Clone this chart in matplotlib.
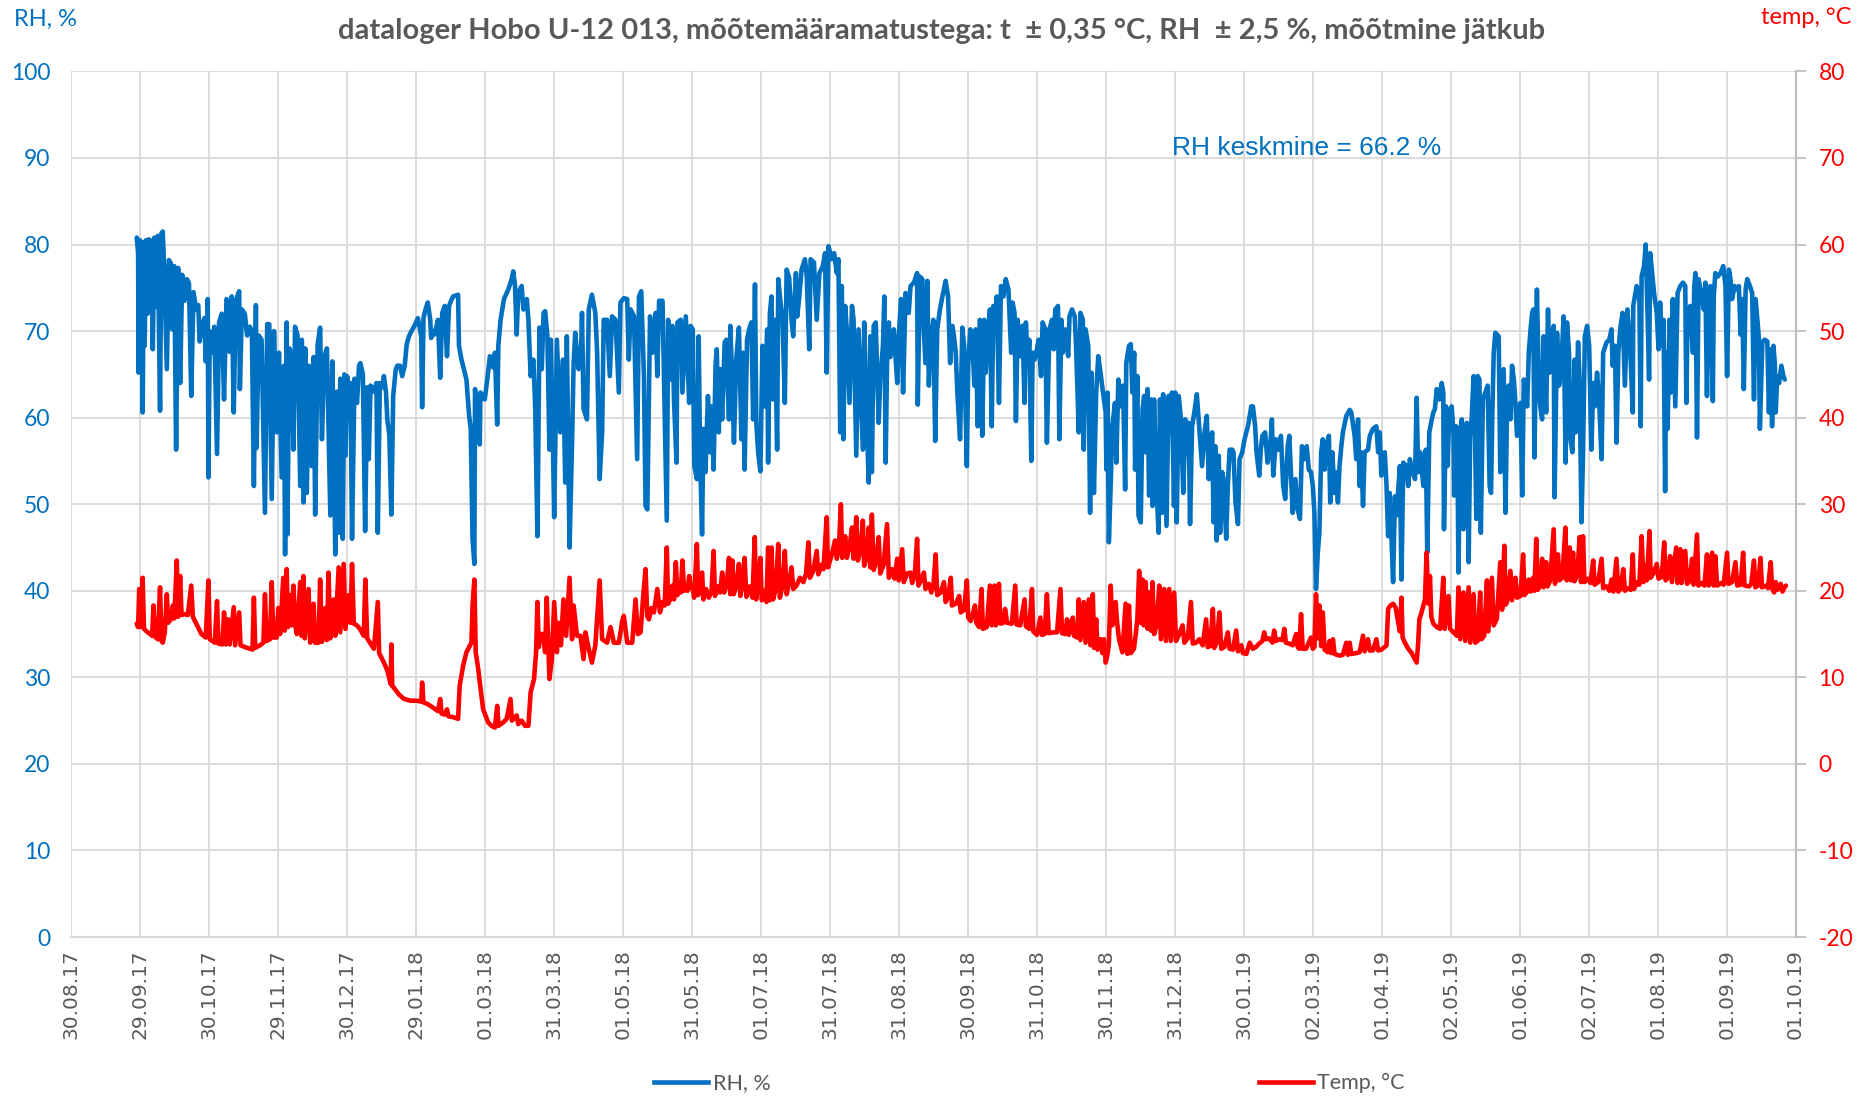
import matplotlib
matplotlib.use("Agg")
import matplotlib.pyplot as plt
from matplotlib.lines import Line2D
import numpy as np

# ---------------- data ----------------
x_tick_labels = ["30.08.17", "29.09.17", "30.10.17", "29.11.17", "30.12.17", "29.01.18",
                 "01.03.18", "31.03.18", "01.05.18", "31.05.18", "01.07.18", "31.07.18",
                 "31.08.18", "30.09.18", "31.10.18", "30.11.18", "31.12.18", "30.01.19",
                 "02.03.19", "01.04.19", "02.05.19", "01.06.19", "02.07.19", "01.08.19",
                 "01.09.19", "01.10.19"]
tick_step_days = 30.5
rh_ticks = [0, 10, 20, 30, 40, 50, 60, 70, 80, 90, 100]
temp_ticks = [-20, -10, 0, 10, 20, 30, 40, 50, 60, 70, 80]

# (days since 30.08.17, RH %)
rh_points = [
    (28.9,80.8),(29.5,79.0),(29.7,65.2),(30.3,80.5),(31.2,80.0),(31.5,60.6),(32.1,80.3),(32.4,68.3),(33.0,80.5),(33.7,72.0),
    (34.2,80.6),(35.4,80.4),(36.0,67.9),(36.7,80.8),(37.5,72.8),(38.2,81.0),(39.2,60.8),(39.8,81.3),(40.4,81.5),(41.0,77.5),
    (42.2,65.6),(43.1,78.2),(44.0,77.8),(44.6,70.2),(45.5,77.5),(46.3,56.3),(47.2,77.3),(48.1,64.0),(49.0,76.5),(50.0,73.5),
    (51.1,76.0),(52.0,75.5),(53.0,62.5),(54.0,74.5),(55.2,72.5),(56.1,73.0),(56.7,68.8),(57.6,70.5),(58.8,71.5),(59.4,66.5),
    (60.3,73.7),(60.6,53.1),(61.2,70.0),(62.3,67.5),(63.2,70.5),(64.4,55.8),(65.3,71.0),(66.5,72.0),(67.5,62.1),(68.6,73.7),
    (69.5,73.0),(70.0,67.6),(70.9,74.0),(71.8,60.6),(72.7,73.5),(73.6,74.2),(74.2,74.6),(74.5,63.3),(75.4,72.5),(76.7,72.0),
    (77.7,69.5),(78.9,70.5),(79.8,70.0),(80.7,52.1),(81.6,73.0),(81.9,56.5),(82.8,69.5),(84.1,69.0),(85.6,49.0),(86.6,70.8),
    (87.5,70.8),(88.6,50.6),(89.6,70.0),(90.8,58.3),(91.8,67.5),(93.0,53.1),(94.0,66.0),(94.5,44.2),(95.2,71.0),(95.5,46.5),
    (96.4,68.0),(97.5,67.0),(98.2,56.3),(98.9,70.5),(100.0,69.5),(101.2,52.1),(101.9,69.0),(102.6,50.2),(103.4,68.0),(104.1,51.3),
    (105.0,66.0),(106.3,54.4),(107.1,67.0),(107.8,48.8),(108.9,68.5),(110.0,70.4),(110.8,57.5),(111.8,67.0),(113.0,68.0),(114.5,48.7),
    (115.4,66.5),(116.0,58.0),(116.7,44.2),(117.5,63.0),(118.2,46.7),(118.9,64.5),(120.0,46.0),(120.7,65.0),(121.2,55.6),(121.9,64.8),
    (122.6,63.5),(123.4,64.0),(124.1,46.0),(125.2,64.5),(126.3,61.7),(127.2,66.0),(127.8,66.3),(128.9,65.0),(129.9,46.9),(130.8,63.5),
    (131.5,55.2),(132.3,63.7),(133.8,63.0),(134.9,64.0),(135.5,46.7),(136.4,64.0),(137.5,63.5),(138.2,64.8),(139.1,63.0),(139.7,59.8),
    (140.6,58.0),(141.5,48.8),(142.3,62.5),(143.4,65.5),(144.1,66.0),(145.3,66.0),(146.3,64.8),(147.4,66.0),(148.3,68.5),(149.3,69.4),
    (150.0,69.8),(151.7,70.6),(153.2,71.5),(154.7,69.4),(155.1,61.2),(155.7,71.5),(156.6,72.5),(157.6,73.3),(158.7,71.3),(159.1,69.2),
    (159.9,70.0),(160.6,69.6),(162.1,71.3),(163.1,64.6),(164.0,72.1),(165.1,72.9),(166.1,67.1),(167.0,72.9),(167.9,73.5),(168.8,74.0),
    (171.0,74.2),(171.4,68.3),(172.5,66.7),(173.2,66.0),(174.7,64.4),(175.9,60.2),(176.6,58.7),(177.4,46.0),(178.2,43.1),(178.5,63.3),
    (179.4,60.6),(180.0,62.5),(180.6,56.9),(180.9,62.9),(182.8,62.1),(183.9,64.4),(185.1,67.1),(186.5,65.8),(187.3,67.5),(188.3,59.2),
    (188.8,68.3),(189.8,71.3),(191.3,73.7),(193.2,74.8),(194.7,76.0),(195.4,76.9),(196.2,75.2),(196.9,69.6),(197.6,74.4),(199.1,75.2),
    (199.9,72.5),(201.4,73.7),(202.1,71.3),(203.1,64.8),(204.3,66.7),(205.1,61.3),(206.1,46.3),(207.0,70.4),(208.0,65.6),(208.8,72.1),
    (209.5,72.3),(210.5,69.4),(211.4,56.3),(212.0,69.0),(212.9,57.9),(213.5,48.5),(214.7,69.0),(216.2,58.3),(217.4,66.7),(218.4,52.5),
    (219.1,69.4),(220.3,45.0),(221.4,57.1),(222.1,66.3),(222.8,69.8),(224.3,65.6),(225.4,67.5),(225.8,72.1),(226.5,61.0),(228.0,59.8),
    (228.8,72.5),(230.2,74.2),(231.7,72.1),(232.5,67.5),(233.6,52.9),(234.7,58.3),(235.4,71.3),(236.9,71.3),(238.1,64.8),(239.1,71.7),
    (240.6,71.3),(242.1,62.9),(242.8,73.3),(244.3,73.8),(245.8,73.7),(246.5,66.7),(247.3,72.5),(248.8,71.7),(250.2,55.2),(251.0,74.0),
    (252.0,74.6),(253.2,64.8),(253.9,49.8),(254.7,49.4),(255.9,71.7),(256.9,67.5),(258.4,72.1),(259.1,64.8),(259.9,73.5),(261.4,73.5),
    (262.4,59.8),(263.3,48.1),(263.9,71.3),(265.1,64.4),(265.8,70.6),(266.5,61.9),(267.6,54.8),(268.0,71.0),(269.5,71.3),(270.2,62.9),
    (271.7,71.7),(273.2,61.7),
    (273.8,70.6),(274.8,70.2),(275.5,54.4),(276.6,52.9),(277.4,69.4),(278.0,56.0),(278.9,46.5),(279.5,58.7),(280.4,53.7),(281.5,62.5),
    (282.5,56.0),(282.9,61.3),(284.0,54.0),(284.9,66.3),(285.4,67.9),(286.3,58.3),(286.9,65.6),(287.8,59.8),(288.9,68.7),(289.6,69.0),
    (290.8,59.8),(291.4,70.6),(292.3,63.7),(293.0,57.1),(294.0,66.7),(295.2,70.4),(296.3,57.5),(297.0,67.5),(297.7,54.0),(298.8,69.0),
    (299.7,70.2),(300.7,71.0),(301.5,59.8),(302.3,75.4),(302.9,59.4),(303.7,56.0),(304.7,53.8),(305.6,68.3),(306.6,61.3),(307.7,70.2),
    (308.1,54.8),(308.9,72.1),(309.6,74.0),(310.3,62.1),(311.1,71.3),(312.1,56.3),(312.6,76.0),(313.6,73.3),(314.5,71.3),(315.5,61.7),
    (316.3,77.1),(317.4,76.2),(318.5,71.3),(319.2,69.4),(320.4,76.7),(321.0,71.7),(321.9,74.0),(322.9,77.1),(324.4,78.3),(325.2,76.3),
    (326.3,67.9),(326.9,78.3),(328.4,77.9),(329.6,71.3),(330.8,76.7),(332.3,77.5),(333.3,79.0),(334.0,65.2),(334.8,79.8),(336.3,78.3),
    (337.3,79.0),(338.5,76.7),(339.2,78.3),(340.0,58.3),(340.7,75.2),(341.4,57.5),(342.2,72.9),(342.9,70.2),(344.1,61.7),(345.2,72.9),
    (345.9,71.3),(347.1,55.6),(348.1,70.2),(349.2,62.1),(350.0,56.3),(350.6,71.0),(351.5,61.3),(352.6,52.5),(353.3,69.4),(354.0,53.7),
    (354.8,70.6),(355.7,71.0),(357.0,59.4),(357.7,64.4),(358.9,68.3),(359.5,74.0),(360.1,54.8),(360.7,66.3),(361.5,71.0),(362.2,67.0),
    (363.7,70.2),(365.2,64.0),(365.9,69.4),(366.9,73.7),(367.8,62.9),(368.9,74.4),(370.3,72.1),(371.1,75.2),(372.6,75.6),(374.0,76.7),
    (374.3,61.5),(375.2,76.3),(376.3,76.0),(377.0,69.8),(377.7,66.3),(378.5,75.8),(379.2,63.7),(380.0,69.0),(381.2,71.3),(382.0,57.3),
    (382.9,70.2),(384.1,72.5),(385.2,74.0),(386.6,75.8),(387.7,74.0),(388.6,66.3),(389.6,70.6),(390.3,69.4),(391.1,67.5),(391.8,62.9),
    (393.0,57.5),(394.0,70.4),(394.8,68.3),(396.0,54.4),(396.6,66.0),(397.5,70.2),
    (398.3,69.8),(399.3,63.7),(399.9,70.2),(400.8,59.0),(401.8,71.3),(402.8,57.9),(403.7,71.3),(404.3,65.2),(405.2,69.4),(406.2,72.5),
    (407.0,59.0),(407.7,72.9),(408.8,70.2),(409.2,74.0),(410.2,61.7),(411.1,75.2),(412.2,74.0),(413.2,76.0),(414.4,74.8),(415.6,67.5),
    (416.2,73.3),(417.1,72.1),(417.7,59.6),(418.5,71.3),(419.6,67.1),(420.6,70.6),(421.5,61.7),(422.1,71.0),(423.0,66.0),(423.6,69.0),
    (424.5,55.0),(425.1,67.5),(425.9,66.7),(427.0,67.9),(427.7,69.0),(428.8,64.8),(429.5,71.0),(430.7,70.2),(431.4,57.1),(432.5,70.2),
    (433.7,71.3),(434.4,67.9),(435.1,72.5),(436.3,72.9),(436.9,57.5),(437.8,71.3),(438.4,67.5),(439.6,70.2),(440.8,67.1),(441.4,71.7),
    (442.5,72.5),(443.7,71.7),(444.3,68.3),(445.5,58.3),(446.2,72.1),(447.3,71.3),(447.7,56.3),(448.5,70.2),(449.7,68.3),(450.5,49.0),
    (451.1,65.2),(452.2,51.3),(453.2,62.9),(454.1,67.1),(455.1,65.2),(456.2,62.9),(457.4,60.6),(457.7,54.0),(458.2,62.9),(458.8,45.6),
    (459.6,52.1),(460.3,59.0),(461.5,61.7),(462.1,54.8),(463.0,64.4),(464.0,61.3),(465.1,63.7),(466.0,51.7),(466.5,66.3),(467.7,68.3),
    (468.5,68.5),(469.2,62.9),(470.0,67.5),(470.4,54.0),(471.4,64.8),(471.9,48.7),(472.9,47.9),(473.7,60.9),(474.4,62.5),(475.1,56.0),
    (475.9,63.3),(476.6,51.0),(477.4,62.1),(478.1,49.8),(478.8,62.1),(479.9,51.7),(480.8,46.7),(481.4,62.1),(482.3,49.0),(482.8,62.7),
    (483.7,53.7),(484.3,47.5),(485.2,62.5),(485.8,58.3),(486.7,62.9),(487.6,49.8),(488.2,62.9),(488.8,47.9),(489.7,62.5),(490.7,59.8),
    (491.7,51.3),(492.6,59.8),(493.2,56.0),(494.1,59.4),(494.7,47.7),(495.6,59.0),(496.6,60.6),(497.7,62.7),(498.5,59.8),(500.0,54.4),
    (501.1,58.3),(502.1,60.2),(503.0,52.9),(503.6,56.7),(504.5,58.3),(505.1,47.9),(505.9,56.7),(506.5,45.8),(507.4,55.6),(508.0,46.7),
    (508.9,53.7),(509.5,52.9),(510.7,46.0),(511.4,52.1),(512.2,56.3),(513.4,56.3),(513.9,56.0),(514.8,50.2),(515.9,47.7),(516.6,55.2),
    (517.8,56.0),(518.8,57.5),(520.3,59.0),(521.8,61.3),
    (522.5,61.3),(523.5,59.0),(524.1,56.0),(525.3,53.3),(526.0,56.3),(526.7,57.9),(527.9,58.3),(529.0,54.8),(530.0,56.0),(530.9,59.8),
    (531.5,53.3),(532.7,57.5),(533.9,56.3),(534.9,57.9),(535.9,52.1),(536.8,50.6),(537.9,56.7),(538.6,57.9),(540.1,49.0),(541.3,52.9),
    (542.3,49.4),(543.3,48.3),(544.2,56.7),(545.3,55.2),(546.3,56.7),(547.2,54.0),(548.2,53.7),(549.0,52.1),(549.7,49.0),(550.4,40.2),
    (551.2,44.4),(551.9,46.7),(552.7,56.0),(553.4,57.5),(554.2,54.0),(554.9,56.7),(556.1,57.9),(556.7,50.2),(557.6,56.0),(558.6,51.3),
    (559.3,53.7),(560.1,50.2),(560.8,54.4),(561.6,56.7),(562.3,58.3),(563.8,60.2),(565.3,60.9),(566.0,60.6),(567.5,57.9),(568.2,55.2),
    (569.0,59.8),(569.7,52.1),(570.4,56.0),(571.2,49.8),(571.9,56.0),(573.4,56.3),(574.2,57.9),(575.6,58.7),(577.1,59.0),(577.9,56.0),
    (578.6,58.3),(579.3,53.3),(580.8,56.0),(581.6,52.1),(582.3,46.3),(583.0,51.3),(583.8,46.0),(584.5,41.0),(585.3,50.9),(586.0,48.7),
    (586.7,51.3),(587.5,54.4),(588.2,41.3),(589.0,54.8),(590.4,54.4),(591.2,52.1),(591.9,55.2),(593.1,53.7),(594.2,52.9),(594.9,62.3),
    (595.6,53.7),(596.4,56.0),(597.9,52.1),(598.6,56.0),(599.0,56.3),(599.6,44.4),(600.5,58.3),(601.6,59.8),(602.3,60.6),(603.0,61.0),
    (603.8,63.3),(605.0,62.1),(606.0,64.0),(606.7,62.9),(607.0,47.1),(607.9,61.3),(608.5,54.4),(609.4,60.6),(610.4,61.3),(611.2,58.3),
    (611.5,51.0),(612.4,59.0),(613.0,54.8),(613.4,42.1),(614.2,58.3),(614.9,59.8),(615.6,47.1),(616.4,52.1),(617.1,59.4),(617.9,43.3),
    (618.6,57.9),(619.3,60.2),(620.1,64.8),(620.8,57.1),(621.3,48.3),(621.9,64.8),(622.7,64.4),(623.3,46.7),(624.2,62.1),(625.3,62.9),
    (626.3,63.7),(627.2,52.1),(627.8,51.3),(628.4,60.6),(629.0,67.5),(629.7,69.8),(631.2,69.4),(631.9,53.7),(632.7,61.3),(633.4,65.6),
    (634.2,49.0),(634.9,61.3),(635.6,63.7),(636.4,59.8),(637.1,66.0),(637.9,64.4),(638.6,61.7),(639.3,57.9),(640.8,61.7),(641.6,51.0),
    (642.3,64.4),(643.8,61.3),(644.5,67.5),(645.3,70.2),(646.0,72.1),
    (646.5,72.5),(647.0,55.4),(648.1,74.8),(649.0,63.3),(649.6,61.3),(650.4,59.8),(651.0,69.4),(652.2,60.6),(653.0,72.5),(653.7,65.2),
    (654.5,69.4),(655.5,70.6),(655.9,50.8),(657.0,69.8),(657.9,63.7),(658.9,66.0),(659.9,71.7),(660.8,54.8),(661.4,71.0),(662.3,67.5),
    (662.9,57.5),(663.8,56.0),(664.8,66.7),(665.3,58.3),(666.3,68.7),(667.0,64.0),(667.8,47.9),(668.5,56.0),(669.3,69.4),(670.3,70.6),
    (671.2,68.3),(672.2,56.3),(673.0,64.0),(673.7,61.3),(674.7,65.2),(675.6,62.1),(676.7,55.2),(677.4,67.5),(678.9,68.7),(680.1,69.0),
    (681.1,70.2),(681.6,66.0),(682.6,68.3),(683.3,57.1),(684.1,67.5),(685.1,70.6),(686.0,72.1),(687.0,63.7),(688.1,72.5),(689.3,68.3),
    (690.5,60.6),(690.7,72.9),(692.2,75.2),(693.4,74.0),(694.0,59.0),(694.4,76.3),(695.5,77.5),(696.2,80.0),(697.1,71.3),(697.7,64.4),
    (698.2,79.0),(698.9,77.1),(699.9,74.4),(701.1,72.1),(701.9,67.9),(702.6,73.3),(703.3,68.3),(704.1,71.3),(704.8,51.5),(705.3,67.5),
    (705.9,58.7),(706.7,71.3),(707.3,62.9),(708.2,73.7),(709.3,61.3),(710.3,74.4),(711.5,75.2),(712.7,75.6),(713.7,75.2),(714.2,61.7),
    (714.7,71.3),(715.9,72.9),(717.1,67.5),(717.7,75.2),(718.2,76.7),(718.9,57.7),(719.6,76.0),(720.7,74.4),(721.9,72.5),(722.6,75.6),
    (723.3,62.5),(724.1,74.8),(724.8,75.2),(725.9,61.9),(726.3,74.0),(727.0,76.7),(728.1,76.3),(729.3,76.7),(730.5,77.5),(731.5,75.2),
    (732.2,64.8),(733.0,77.1),(733.7,76.0),(734.4,73.7),(735.5,75.2),(736.7,74.8),(737.4,75.2),(738.2,69.6),(738.9,73.7),(739.6,63.3),
    (740.4,74.8),(741.1,76.0),(742.3,75.2),(743.3,74.4),(744.1,62.1),(744.8,73.7),(745.6,71.3),(746.3,69.0),(746.7,58.7),(747.8,68.7),
    (748.8,69.0),(750.0,68.8),(750.7,60.6),(751.5,67.9),(752.1,59.0),(752.7,68.3),(753.3,66.3),(753.7,60.6),(754.4,64.8),(755.2,64.0),
    (756.2,66.0),(757.1,64.8),(757.7,64.4),
]

# (days since 30.08.17, temperature °C)
temp_points = [
    (28.9,16.2),(29.5,15.8),(30.0,20.2),(30.6,15.8),(31.5,21.5),(32.1,15.6),(33.7,15.2),(34.8,15.0),(35.7,14.8),(36.3,18.3),
    (36.9,14.7),(38.2,14.4),(39.2,20.4),(39.8,14.2),(40.4,14.0),(41.3,15.2),(42.2,19.6),(42.8,16.3),(44.0,16.7),(44.9,18.3),
    (45.5,16.8),(46.6,23.5),(47.2,17.0),(48.1,21.7),(48.7,17.2),(50.0,17.3),(51.5,17.2),(53.0,20.6),(53.7,17.0),(55.2,16.2),
    (57.5,15.0),(59.4,14.6),(60.6,21.2),(61.2,14.4),(63.4,14.0),(64.4,18.8),(65.0,13.9),(66.8,13.8),(67.5,17.5),(68.3,13.8),
    (69.3,16.7),(70.0,13.8),(71.8,18.1),(72.4,13.7),(74.2,17.5),(74.8,13.7),(76.7,13.5),(78.9,13.3),(80.1,13.2),(80.7,19.2),
    (81.3,13.4),(83.4,13.7),(84.9,14.0),(85.6,19.6),(86.3,14.2),(87.8,14.4),(88.6,21.0),(89.3,14.6),(90.8,14.6),(91.5,18.0),
    (92.3,15.0),(93.7,21.5),(94.3,15.4),(95.2,22.5),(95.8,15.8),(96.7,19.5),(97.5,16.0),(98.2,20.6),(98.9,16.2),(99.7,15.0),
    (101.2,21.0),(101.7,14.8),(102.6,21.7),(103.2,14.5),(104.9,20.2),(105.6,14.0),(107.1,18.5),(107.8,14.0),(109.3,14.0),(110.0,21.3),
    (110.8,14.1),(112.3,18.0),(113.0,14.3),(113.7,22.1),(114.5,14.5),(116.0,19.0),(116.7,14.8),(118.2,22.7),(118.9,15.2),(120.4,23.1),
    (121.2,15.6),(122.6,19.5),(123.4,16.3),(124.1,23.1),(124.9,16.2),(126.3,16.0),(127.8,15.5),(129.3,14.8),(130.0,21.3),(130.8,14.5),
    (133.0,13.6),(133.8,13.3),(135.5,18.7),(136.1,12.8),(138.2,11.7),(139.7,10.8),(141.2,9.2),(141.5,13.8),(141.9,9.0),(142.6,8.8),
    (144.9,8.0),(147.1,7.5),(150.0,7.3),
    (152.5,7.3),(154.7,7.2),(155.1,9.4),(155.7,7.1),(157.6,6.9),(159.9,6.5),(162.1,6.1),(163.1,7.5),(163.7,5.8),(165.1,5.7),
    (166.1,6.3),(166.7,5.5),(168.8,5.4),(171.0,5.2),(171.7,9.0),(173.2,11.3),(174.7,12.9),(175.9,13.5),(176.9,14.0),(177.4,18.3),
    (178.2,21.3),(178.8,12.9),(179.9,11.0),(180.6,9.4),(182.1,6.3),(184.3,4.8),(185.8,4.4),(187.3,4.2),(188.3,6.7),(188.9,4.4),
    (191.0,4.8),(192.5,5.2),(194.2,7.5),(194.8,5.0),(196.2,5.4),(196.9,5.6),(197.6,4.6),(199.1,5.0),(200.6,4.4),(202.1,4.4),
    (203.1,8.3),(204.6,9.8),(205.5,12.9),(206.1,18.7),(206.7,13.5),(207.3,15.0),(208.5,15.0),(209.5,12.9),(210.2,19.2),(211.4,9.8),
    (212.5,12.1),(213.5,18.7),(214.7,12.9),(215.4,16.3),(216.5,13.7),(217.6,19.0),(218.8,14.8),(220.3,21.5),(221.4,14.4),(222.1,18.3),
    (223.6,14.8),(225.1,14.8),(226.5,12.1),(227.3,15.2),(228.8,13.3),(230.2,11.7),(231.7,13.7),(233.6,21.2),(234.7,14.4),(236.9,14.0),
    (238.4,15.8),(239.9,14.0),(242.1,14.0),(243.6,16.5),(244.3,17.1),(245.8,14.0),(248.0,14.0),(249.5,19.0),(250.5,15.0),(251.7,15.2),
    (252.9,19.5),(253.9,22.5),(254.7,17.0),(255.4,16.7),(256.5,18.0),(257.6,17.5),(259.1,20.2),(260.3,17.5),(261.4,18.7),(262.4,18.3),
    (263.3,25.0),(263.9,18.5),(264.8,19.0),(265.8,20.6),(266.5,19.0),(267.3,23.3),(268.0,19.5),(268.8,20.2),(269.5,19.8),(270.2,23.5),
    (271.0,20.0),(271.7,20.2),(272.5,20.0),(273.2,21.7),
    (273.9,20.4),(274.5,20.6),(275.4,19.2),(276.6,25.4),(277.2,19.5),(278.0,20.4),(278.9,22.1),(279.5,19.0),(280.7,20.2),(281.9,19.2),
    (283.1,20.0),(284.0,24.6),(284.6,19.4),(285.9,20.5),(286.9,19.8),(287.8,22.1),(288.7,19.8),(289.9,20.8),(290.8,23.8),(291.4,19.6),
    (292.3,23.5),(292.9,19.6),(294.0,20.6),(295.2,23.1),(295.8,19.4),(296.7,20.6),(297.7,23.8),(298.5,19.3),(300.0,20.5),(301.2,19.2),
    (302.2,26.2),(302.8,19.0),(303.7,20.4),(304.7,23.8),(305.3,18.9),(306.6,20.0),(307.4,18.7),(308.1,25.0),(308.9,18.9),(309.6,25.0),
    (310.3,19.0),(311.5,20.2),(312.6,25.4),(313.3,19.2),(314.5,20.6),(315.5,24.6),(316.3,19.6),(317.4,21.0),(318.5,22.7),(319.2,20.2),
    (320.7,20.6),(322.2,21.5),(323.7,21.0),(324.9,22.0),(325.9,25.6),(326.6,21.5),(328.1,22.3),(329.6,24.6),(330.3,21.9),(331.8,23.0),
    (332.6,22.5),(334.0,28.5),(334.6,22.7),(336.3,24.2),(337.7,25.8),(338.5,23.7),(339.4,25.0),(340.3,30.0),(340.9,23.8),(342.2,26.3),
    (342.9,23.8),(344.1,25.0),(345.2,27.3),(345.9,23.7),(347.1,28.5),(347.8,23.5),(348.9,24.6),(350.0,28.1),(350.6,22.9),(351.8,24.0),
    (352.6,27.3),(353.3,22.7),(354.0,28.8),(354.8,22.4),(356.0,23.5),(357.0,26.2),(357.7,22.0),(359.2,23.0),(360.7,27.7),(361.5,21.5),
    (362.9,22.5),(364.0,21.4),(365.2,23.7),(365.9,21.2),(367.4,24.8),(368.1,21.0),(369.6,22.0),(371.1,22.1),(371.8,20.9),(372.9,21.6),
    (374.0,26.0),(374.6,20.6),(375.8,21.3),(377.0,22.1),(377.7,20.2),(379.2,20.8),(380.3,19.8),(381.2,20.5),(382.2,24.2),(382.9,19.5),
    (384.4,19.8),(385.9,21.0),(386.6,18.7),(387.7,19.2),(388.9,21.5),(389.4,18.3),(391.1,18.5),(392.6,19.4),(393.3,17.5),(394.8,17.8),
    (396.0,21.2),(396.6,16.9),(397.7,16.5),
    (398.8,17.5),(399.6,18.3),(400.2,16.3),(401.4,15.8),(402.5,20.2),(403.1,15.6),(404.8,15.8),(406.2,20.6),(407.0,16.0),(408.2,20.6),
    (408.8,16.0),(410.2,20.8),(410.8,16.2),(412.2,16.3),(412.9,17.9),(413.8,16.3),(415.9,16.2),(417.4,20.6),(418.0,16.1),(419.6,16.0),
    (421.5,19.0),(422.1,15.9),(423.6,15.6),(424.8,20.2),(425.4,15.3),(427.0,14.9),(428.5,16.9),(429.2,14.9),(430.4,15.0),(431.4,19.6),
    (432.2,15.1),(434.4,15.2),(435.9,15.2),(437.4,20.2),(438.1,15.1),(439.6,15.0),(440.3,16.7),(441.1,14.9),(442.8,16.9),(443.4,14.8),
    (444.8,14.6),(445.5,19.0),(446.2,14.3),(447.7,18.7),(448.5,14.0),(449.9,19.0),(450.7,13.7),(451.7,19.6),(452.3,13.4),(453.2,16.7),
    (453.8,13.2),(455.1,14.4),(455.9,12.8),(456.6,14.4),(457.4,11.7),(458.1,12.5),(458.8,13.8),(459.6,20.6),(460.3,16.0),(461.8,18.7),
    (462.4,16.5),(463.3,14.4),(464.8,12.9),(466.2,18.5),(467.0,12.7),(467.7,18.3),(468.5,12.8),(469.9,13.3),(470.7,15.0),(471.4,16.7),
    (472.2,22.3),(472.9,16.3),(473.7,21.3),(474.2,16.0),(475.1,21.0),(475.9,15.6),(476.6,19.8),(477.4,15.4),(478.1,21.0),(478.8,15.0),
    (479.9,16.0),(481.1,20.6),(481.8,14.4),(483.3,20.2),(484.0,14.2),(485.5,20.2),(486.2,14.2),(487.7,19.8),(488.5,14.2),(490.0,15.0),
    (491.4,16.0),(492.2,14.0),(493.7,14.5),(495.1,18.7),(495.9,13.9),(497.4,14.0),(498.8,14.4),(500.3,13.7),(501.8,16.7),(502.5,13.5),
    (503.6,13.6),(504.8,17.9),(505.4,13.4),(506.5,14.0),(507.7,17.5),(508.5,13.3),(509.9,13.5),(511.4,15.2),(512.2,13.3),(513.7,13.2),
    (515.1,15.4),(515.9,13.0),(517.4,13.7),(518.1,12.8),(519.6,12.7),(521.1,14.0),(522.5,13.3),
    (523.8,13.5),(525.3,13.9),(526.7,14.2),(527.5,15.2),(528.2,14.4),(529.7,14.5),(531.2,14.0),(531.9,15.4),(532.7,14.2),(534.2,14.4),
    (535.6,14.3),(536.4,15.6),(537.1,14.0),(538.6,13.9),(540.1,13.7),(541.6,15.0),(542.3,13.5),(543.0,13.3),(543.8,17.3),(544.5,13.3),
    (546.0,13.3),(548.2,14.6),(549.0,13.3),(549.7,13.5),(550.4,19.6),(551.2,14.5),(551.9,18.3),(552.7,13.6),(553.4,17.5),(554.2,13.2),
    (555.6,12.9),(556.4,14.2),(557.1,12.8),(557.9,14.4),(558.6,12.7),(560.8,12.5),(562.3,12.6),(563.8,14.0),(564.5,12.6),(565.3,14.0),
    (566.0,12.7),(568.2,12.8),(569.7,12.9),(571.2,14.8),(571.9,13.0),(573.4,14.4),(574.2,13.1),(575.6,13.1),(577.1,14.4),(577.9,13.1),
    (579.3,13.2),(580.8,13.5),(581.6,13.7),(582.3,17.9),(583.3,18.3),(584.5,18.5),(585.7,18.0),(586.3,17.0),(587.5,15.3),(588.2,19.2),
    (588.7,14.6),(589.7,14.0),(591.2,13.3),(592.7,12.8),(593.7,12.3),(594.9,11.7),(595.6,14.0),(596.1,16.7),(597.1,17.5),(597.9,18.3),
    (598.6,19.0),(599.3,24.4),(600.1,18.5),(600.8,21.7),(601.4,17.0),(602.3,16.2),(603.8,15.8),(605.3,15.6),(606.7,21.5),(607.3,15.6),
    (609.0,19.4),(609.7,15.6),(611.2,15.2),(612.7,14.8),(613.4,20.4),(614.2,14.4),(615.6,19.8),(616.4,14.2),(617.9,20.4),(618.6,14.0),
    (620.1,19.6),(620.8,14.0),(621.9,14.2),(623.0,19.8),(623.6,14.4),(624.8,14.8),(626.0,21.2),(626.6,15.3),(628.2,21.5),(629.0,16.0),
    (630.4,16.8),(631.9,23.3),(632.7,17.8),(633.7,25.2),(634.3,18.4),(634.9,18.7),(636.4,22.3),(637.1,18.9),(638.6,21.5),(639.3,19.2),
    (640.8,19.4),(642.0,24.2),(642.6,19.5),(643.5,19.8),(644.5,21.3),(645.3,19.9),(646.4,21.5),
    (647.0,20.0),(647.8,26.0),(648.4,20.1),(649.6,20.6),(650.4,23.7),(651.0,20.4),(652.2,23.3),(652.8,20.5),(654.0,21.2),(655.5,27.1),
    (656.1,20.8),(657.4,24.2),(658.0,21.2),(659.3,21.5),(660.7,27.3),(661.3,21.2),(662.6,25.0),(663.2,21.2),(664.1,24.4),(664.7,21.1),
    (665.9,21.8),(667.0,26.2),(667.6,21.0),(668.5,26.3),(669.1,21.0),(670.7,21.4),(671.8,20.9),(673.0,23.5),(673.6,20.7),(675.2,21.0),
    (676.7,23.7),(677.4,20.3),(678.9,20.5),(680.1,20.0),(681.1,21.3),(681.9,19.9),(683.3,23.7),(684.1,19.9),(685.1,20.2),(686.3,22.5),
    (687.0,20.0),(688.5,20.3),(689.6,20.1),(690.5,24.2),(691.0,20.2),(692.5,21.0),(693.4,20.7),(694.4,26.3),(695.2,21.0),(695.9,22.9),
    (696.7,21.2),(697.9,26.9),(698.4,21.5),(699.6,22.0),(701.1,23.1),(701.9,21.4),(703.3,21.6),(704.4,25.6),(705.0,21.2),(706.0,21.5),
    (707.0,24.0),(707.8,21.0),(709.7,25.0),(710.3,20.9),(711.5,24.8),(712.1,20.9),(713.7,24.6),(714.5,20.8),(715.6,21.1),(716.7,23.7),
    (717.4,20.7),(718.9,26.5),(719.5,20.6),(721.1,20.9),(722.2,20.6),(723.3,24.2),(724.1,20.6),(725.6,24.4),(726.3,20.6),(727.0,24.0),
    (727.8,20.6),(729.6,20.9),(730.7,20.7),(732.2,24.4),(732.8,20.8),(734.4,21.0),(735.9,23.3),(736.7,20.6),(738.2,20.7),(739.3,24.4),
    (739.9,20.6),(741.9,20.5),(742.9,20.8),(744.1,23.5),(744.7,20.4),(745.9,20.6),(747.0,23.8),(747.6,20.4),(749.3,20.6),(750.3,20.3),
    (751.5,23.3),(752.1,20.3),(753.0,19.8),(753.7,21.0),(754.4,20.1),(755.9,20.8),(756.7,19.9),(757.4,20.3),(758.2,20.6),
]

title = "dataloger Hobo U-12 013, mõõtemääramatustega: t  ± 0,35 °C, RH  ± 2,5 %, mõõtmine jätkub"
rh_axis_label = "RH, %"
temp_axis_label = "temp, °C"
rh_series_name = "RH, %"
temp_series_name = "Temp, °C"
rh_mean_text = "RH keskmine = 66.2 %"

# ---------------- styling ----------------
BLUE = "#0070C0"
RED = "#FF0000"
GRAY_TXT = "#595959"
GRID = "#D9D9D9"
HUMAN = ["Lato", "DejaVu Sans"]

rh_x, rh_y = np.array(rh_points).T
t_x, t_y = np.array(temp_points).T

W, H = 1867, 1098
fig = plt.figure(figsize=(W / 100, H / 100), dpi=100)
L, R, T, B = 71.4, 1795.6, 71.4, 937.0
ax = fig.add_axes([L / W, 1 - B / H, (R - L) / W, (B - T) / H])
ax2 = ax.twinx()

ax.plot(rh_x, rh_y, color=BLUE, lw=3.3, solid_joinstyle="round", solid_capstyle="round", zorder=3)
ax2.plot(t_x, t_y, color=RED, lw=3.3, solid_joinstyle="round", solid_capstyle="round", zorder=3)

n_ticks = len(x_tick_labels)
ax.set_xlim(0, (n_ticks - 1) * tick_step_days)
ax.set_ylim(rh_ticks[0], rh_ticks[-1])
ax2.set_ylim(temp_ticks[0], temp_ticks[-1])

ax.set_xticks(np.arange(n_ticks) * tick_step_days)
ax.set_xticklabels(x_tick_labels, rotation=90, color=GRAY_TXT, fontsize=14.5,
                   family="DejaVu Sans")
ax.set_yticks(rh_ticks)
ax.set_yticklabels([str(v) for v in rh_ticks], color=BLUE, fontsize=16.5, family=HUMAN)
ax2.set_yticks(temp_ticks)
ax2.set_yticklabels([str(v) for v in temp_ticks], color=RED, fontsize=16.5, family=HUMAN)

ax.grid(True, color=GRID, lw=1.3, zorder=0)
ax.set_axisbelow(True)
ax.tick_params(axis="x", length=0, pad=9)
ax.tick_params(axis="y", length=0, pad=15)
ax2.tick_params(axis="y", length=7, width=1.3, color="#BFBFBF", pad=9.5, direction="out")

for s in ["top", "left", "right"]:
    ax.spines[s].set_visible(False)
ax.spines["bottom"].set_color(GRID)
ax.spines["bottom"].set_linewidth(1.6)
for s in ["top", "left", "bottom"]:
    ax2.spines[s].set_visible(False)
ax2.spines["right"].set_color("#BFBFBF")
ax2.spines["right"].set_linewidth(1.6)

fig.text(942 / W, 1 - 31 / H, title, ha="center", va="center", fontsize=21,
         fontweight="bold", color=GRAY_TXT, family=HUMAN)
fig.text(14 / W, 1 - 19 / H, rh_axis_label, ha="left", va="center", fontsize=17,
         color=BLUE, family=HUMAN)
fig.text(1851 / W, 1 - 17 / H, temp_axis_label, ha="right", va="center", fontsize=17,
         color=RED, family=HUMAN)
ax.text(0.6385, 0.912, rh_mean_text, transform=ax.transAxes, ha="left", va="center",
        fontsize=19, color=BLUE, family=["Liberation Sans", "DejaVu Sans"])

handles = [Line2D([], [], color=BLUE, lw=3.3), Line2D([], [], color=RED, lw=3.3)]
fig.legend(handles, [rh_series_name, temp_series_name], loc="center",
           bbox_to_anchor=(1029.5 / W, 1 - 1083 / H), ncol=2, frameon=False,
           labelcolor=GRAY_TXT, handlelength=2.5, handletextpad=0.2,
           columnspacing=22.7, prop={"family": HUMAN, "size": 15.5})

fig.savefig("out.png", dpi=100)
